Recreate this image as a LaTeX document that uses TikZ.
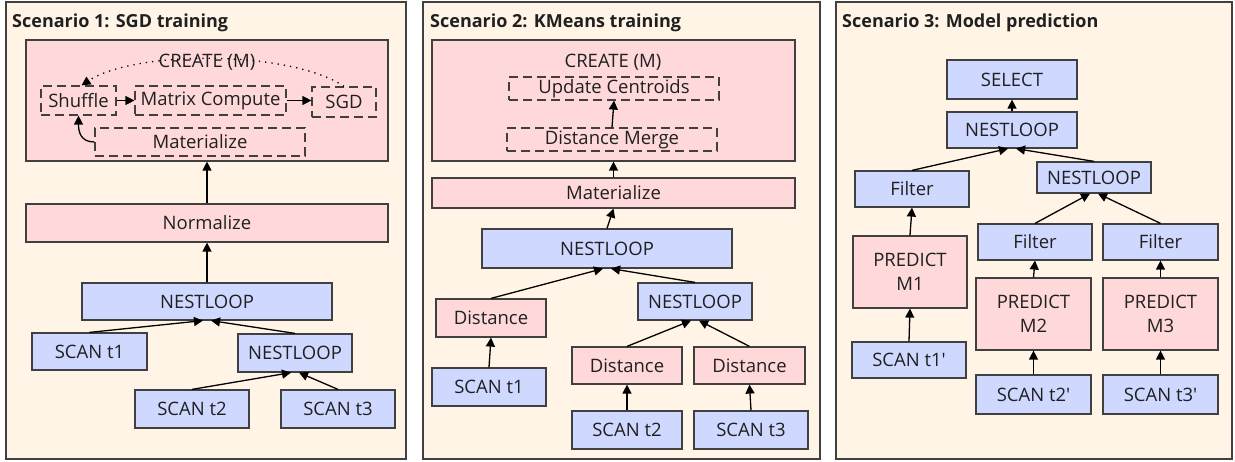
\documentclass[tikz,border=0pt]{standalone}
\usepackage{fontspec}
\setmainfont{Open Sans}
\usetikzlibrary{arrows.meta}
\definecolor{cream}{HTML}{FFF4E6}
\definecolor{pinkf}{HTML}{FFD9D9}
\definecolor{bluef}{HTML}{CFD8FF}
\definecolor{edge}{HTML}{404040}
\definecolor{txt}{HTML}{202020}
\begin{document}
\begin{tikzpicture}[x=1pt,y=-1pt,
 wh/.style 2 args={minimum width=#1pt, minimum height=#2pt},
 box/.style={draw=edge, line width=1.2pt, inner sep=0pt, text=txt, font=\fontsize{18.5}{24}\selectfont, align=center},
 bluebox/.style={box, fill=bluef},
 pinkbox/.style={box, fill=pinkf},
 dbox/.style={box, dash pattern=on 9pt off 5pt},
 panel/.style={draw=edge, line width=1.2pt, fill=cream, inner sep=0pt},
 title/.style={font=\bfseries\fontsize{18}{22}\selectfont, text=txt, anchor=base west, inner sep=0pt},
 lbl/.style={font=\fontsize{18.5}{22}\selectfont, text=txt, inner sep=0pt},
 arr/.style={-{Triangle[length=9pt,width=9pt]}, line width=1.3pt, draw=black},
 ]
\useasboundingbox (0,0) rectangle (1235,462);
% panels
\node[panel, wh={400}{457}] (p1) at (206,230.5) {};
\node[panel, wh={397}{457}] (p2) at (621.5,230.5) {};
\node[panel, wh={396}{457}] (p3) at (1034,230.5) {};
\node[title] (t1) at (12,28) {Scenario 1: SGD training};
\node[title] (t2) at (430,28) {Scenario 2: KMeans training};
\node[title] (t3) at (842,28) {Scenario 3: Model prediction};

% ---------- Scenario 1 ----------
\node[pinkbox, wh={362}{121}] (create1) at (207,100.5) {};
\node[lbl] (create1t) at (207,62) {CREATE (M)};
\node[dbox, wh={75}{29}] (shuffle) at (78.5,100.5) {Shuffle};
\node[dbox, wh={151}{29}] (matrix) at (210.5,100.5) {Matrix Compute};
\node[dbox, wh={64}{30}] (sgd) at (344,102) {SGD};
\node[dbox, wh={210}{28}] (mat1) at (200,142) {Materialize};
\node[pinkbox, wh={362}{38}] (norm) at (207,223) {Normalize};
\node[bluebox, wh={250}{37}] (nl1) at (207,301.5) {NESTLOOP};
\node[bluebox, wh={115}{37}] (s11) at (89.5,351.5) {SCAN t1};
\node[bluebox, wh={114}{38}] (nl1b) at (295,353) {NESTLOOP};
\node[bluebox, wh={114}{38}] (s12) at (192,409) {SCAN t2};
\node[bluebox, wh={114}{38}] (s13) at (338,409) {SCAN t3};

\draw[arr] (mat1.west) .. controls +(-14,0) and +(0,16) .. (shuffle.south);
\draw[arr] (shuffle.east) -- (matrix.west);
\draw[arr] (matrix.east) -- (matrix.east -| sgd.west);
\draw[arr, dash pattern=on 1.3pt off 5pt] (sgd.north) .. controls (290,50) and (135,50) .. ([xshift=3pt]shuffle.north);
\draw[arr] (norm.north) -- (create1.south);
\draw[arr] (nl1.north) -- (norm.south);
\draw[arr] (s11.north) -- ([xshift=-4pt]nl1.south);
\draw[arr] (nl1b.north) -- ([xshift=4pt]nl1.south);
\draw[arr] (s12.north) -- ([xshift=-4pt]nl1b.south);
\draw[arr] (s13.north) -- ([xshift=4pt]nl1b.south);

% ---------- Scenario 2 ----------
\node[pinkbox, wh={363}{121}] (create2) at (613.5,100.5) {};
\node[lbl] (create2t) at (613,62) {CREATE (M)};
\node[dbox, wh={210}{23}] (upd) at (614,88.5) {Update Centroids};
\node[dbox, wh={210}{23}] (dmerge) at (612,139.5) {Distance Merge};
\node[pinkbox, wh={363}{30}] (mat2) at (613.5,193) {Materialize};
\node[bluebox, wh={250}{39}] (nl2) at (607,248.5) {NESTLOOP};
\node[pinkbox, wh={110}{38}] (d1) at (491,318) {Distance};
\node[bluebox, wh={114}{38}] (s21) at (489,387) {SCAN t1};
\node[bluebox, wh={114}{37}] (nl2b) at (695,301.5) {NESTLOOP};
\node[pinkbox, wh={110}{37}] (d2) at (627,365.5) {Distance};
\node[pinkbox, wh={111}{37}] (d3) at (749.5,365.5) {Distance};
\node[bluebox, wh={110}{38}] (s22) at (627,430) {SCAN t2};
\node[bluebox, wh={114}{38}] (s23) at (751,430) {SCAN t3};

\draw[arr] (dmerge.north) -- (upd.south);
\draw[arr] (mat2.north) -- (create2.south);
\draw[arr] (nl2.north) -- (mat2.south);
\draw[arr] (d1.north) -- ([xshift=-4pt]nl2.south);
\draw[arr] (nl2b.north) -- ([xshift=4pt]nl2.south);
\draw[arr] (s21.north) -- (d1.south);
\draw[arr] (d2.north) -- ([xshift=-4pt]nl2b.south);
\draw[arr] (d3.north) -- ([xshift=4pt]nl2b.south);
\draw[arr] (s22.north) -- (d2.south);
\draw[arr] (s23.north) -- (d3.south);

% ---------- Scenario 3 ----------
\node[bluebox, wh={130}{39}] (sel) at (1012,79.5) {SELECT};
\node[bluebox, wh={130}{36}] (nl3) at (1012,130) {NESTLOOP};
\node[bluebox, wh={114}{36}] (f1) at (912,189) {Filter};
\node[bluebox, wh={114}{31}] (nl3b) at (1094,177.5) {NESTLOOP};
\node[bluebox, wh={114}{36}] (f2) at (1035,242) {Filter};
\node[bluebox, wh={115}{36}] (f3) at (1160.5,242) {Filter};
\node[pinkbox, wh={114}{72}] (pr1) at (910,272) {PREDICT\\M1};
\node[bluebox, wh={114}{36}] (s31) at (909,360) {SCAN t1\textquotesingle};
\node[pinkbox, wh={115}{72}] (pr2) at (1033.5,314) {PREDICT\\M2};
\node[pinkbox, wh={115}{72}] (pr3) at (1160.5,314) {PREDICT\\M3};
\node[bluebox, wh={115}{39}] (s32) at (1033.5,394.5) {SCAN t2\textquotesingle};
\node[bluebox, wh={115}{39}] (s33) at (1160.5,394.5) {SCAN t3\textquotesingle};

\draw[arr] (nl3.north) -- (sel.south);
\draw[arr] (f1.north) -- ([xshift=-4pt]nl3.south);
\draw[arr] (nl3b.north) -- ([xshift=4pt]nl3.south);
\draw[arr] (f2.north) -- ([xshift=-4pt]nl3b.south);
\draw[arr] (f3.north) -- ([xshift=4pt]nl3b.south);
\draw[arr] (pr1.north) -- (f1.south);
\draw[arr] (s31.north) -- (pr1.south);
\draw[arr] (pr2.north) -- (f2.south);
\draw[arr] (pr3.north) -- (f3.south);
\draw[arr] (s32.north) -- (pr2.south);
\draw[arr] (s33.north) -- (pr3.south);
\end{tikzpicture}
\end{document}
